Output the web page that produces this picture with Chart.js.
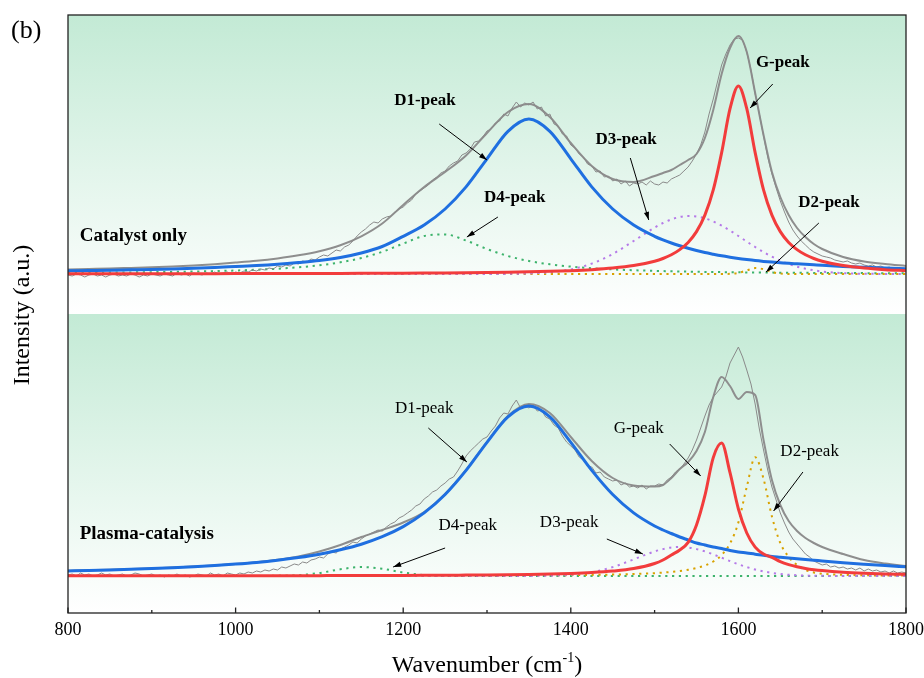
<!DOCTYPE html>
<html><head><meta charset="utf-8">
<script src="https://cdn.jsdelivr.net/npm/chart.js@4/dist/chart.umd.min.js"></script>
<style>html,body{margin:0;padding:0;background:#fff}#wrap{width:924px;height:678px}</style>
</head><body><div id="wrap"><canvas id="c" width="924" height="678"></canvas></div>
<script>
// ---------- data ----------
const WAVENUMBER = [800,825,850,875,900,925,950,975,1000,1025,1050,1075,1100,1125,1150,1175,1200,1225,1250,1275,1300,1325,1350,1375,1400,1425,1450,1475,1500,1510,1520,1530,1540,1550,1560,1570,1580,1590,1600,1610,1620,1630,1640,1650,1660,1670,1680,1690,1700,1725,1750,1775,1800];

// Catalyst only (top panel)
const TOP_FIT = [4.5,5,5.5,6.1,6.7,7.5,8.5,9.8, 11.4,13.2,15.6,18.7,22.8,28.8,37.7,50.5, 69,87,102,118.5,141,162,170,157, 131,108,95,92,98, 101,104,109,114,120,136,164,200,226,238, 222,181,139,102,77,59,46,37,30,25, 17,12.5,10,8];
const TOP_D1 = [3.2,3.5,3.8,4.2,4.6,5.1,5.7,6.5, 7.5,8.5,9.8,11.5,13.5,16.5,21,27.5, 37.7,49,65,87.1,115.2,142.7,155,142.7, 115.2,87.1,65,49,37.7, 34.1,31,28.3,25.8,23.5,21.5,19.8,18.2,16.8,15.5, 14.4,13.4,12.6,11.9,11.3,10.7,10.2,9.7,9.2,8.7, 7.6,6.7,6,5.3];
const TOP_G = [0.21,0.23,0.24,0.26,0.28,0.3,0.32,0.35, 0.38,0.41,0.45,0.5,0.55,0.61,0.67,0.76, 0.85,0.97,1.11,1.29,1.51,1.8,2.17,2.67, 3.36,4.37,5.9,8.4,12.8, 15.5,19.2,24.4,31.6,42.4,58.9,84.1,121.4,165.3,188, 165.3,121.4,84.1,58.9,42.4,31.6,24.4,19.2,15.5,12.8, 8.4,5.9,4.37,3.36];
const TOP_D3 = [0,0,0,0,0,0,0,0, 0,0,0,0,0,0,0,0, 0,0,0,0.01,0.04,0.15,0.56,1.74, 4.6,10.4,20,33,46.4, 51,54.6,57,58,57.5,55.7,52.5,48.4,43.4,38, 32.4,27,21.9,17.3,13.3,10,7.35,5.3,3.7,2.5, 0.85,0.25,0.06,0.01];
const TOP_D4 = [1.12,1.25,1.41,1.6,1.83,2.12,2.48,2.93, 3.5,4.27,5.3,6.7,8.7,11.7,16,22.2, 30.4,38,39.6,33.5,25,18,13,9.7, 7.4,5.75,4.6,3.76,3.12, 2.9,2.71,2.54,2.38,2.24,2.11,1.99,1.88,1.78,1.68, 1.6,1.52,1.45,1.38,1.32,1.26,1.2,1.15,1.1,1.06, 0.97,0.88,0.81,0.75];
const TOP_D2 = [0,0,0,0,0,0,0,0, 0,0,0,0,0,0,0,0, 0,0,0,0,0,0,0,0, 0,0,0,0,0, 0,0,0,0,0,0,0,0,0.17,1.12, 3.64,5.9,4.8,1.95,0.4,0.04,0,0,0,0, 0,0,0,0];

// Plasma-catalysis (bottom panel)
const BOT_FIT = [5.3,5.8,6.3,6.9,7.6,8.4,9.4,10.6, 12,13.8,16.2,19.5,24.5,31,39,46, 53.5,64,82,106,134,160,172,163, 139,115,98,90.5,89.5, 91,98,107,114,125,144,179,199,190,177, 184,181,136,96,71,55,45,38,33,29, 22,16,12.5,10];
const BOT_D1 = [5.03,5.5,6.04,6.67,7.4,8.25,9.26,10.46, 11.9,13.6,15.8,18.5,21.8,26.2,31.8,39.3, 49.4,63.1,81.5,105.6,133.7,159.2,170,159.2, 133.7,105.6,81.5,63.1,50, 46,42.5,39,36,33,31,29,27.5,25.5,24, 23,21.8,20.8,19.5,18.7,17.9,17.2,16.5,15.8,15, 13.3,11.8,10.4,9.2];
const BOT_G = [0.14,0.15,0.16,0.17,0.18,0.2,0.21,0.23, 0.25,0.27,0.3,0.33,0.37,0.41,0.46,0.51, 0.58,0.67,0.77,0.91,1.07,1.29,1.59,2, 2.59,3.48,4.93,7.45,12.5, 16,21,26,33.7,51.1,80.3,118.4,132.9,103.3,67, 43,28.9,22,18.7,14.4,11.4,9.2,7.6,6.35,5.4, 3.76,2.77,2.12,1.68];
const BOT_D3 = [0,0,0,0,0,0,0,0, 0,0,0,0,0,0,0,0, 0,0,0,0,0,0.01,0.07,0.34, 1.27,3.77,8.9,16.6,24.6, 26.9,28.5,29,28.5,26.9,24.6,21.6,18.3,14.9,11.7, 8.9,6.5,4.6,3.1,2.03,1.27,0.77,0.45,0.26,0.14, 0,0,0,0];
const BOT_D4 = [0,0,0,0,0,0,0,0, 0,0,0.13,0.8,3,6.7,9,7.3, 3.5,1,0.18,0.02,0,0,0,0, 0,0,0,0,0, 0,0,0,0,0,0,0,0,0,0, 0,0,0,0,0,0,0,0,0,0, 0,0,0,0];
const BOT_D2 = [0.06,0.07,0.07,0.08,0.08,0.09,0.09,0.1, 0.11,0.12,0.13,0.15,0.16,0.18,0.19,0.22, 0.24,0.27,0.31,0.36,0.42,0.49,0.58,0.71, 0.87,1.1,1.44,1.95,2.8, 3.39,4.06,4.97,6.2,7.95,10.5,14.5,21,32.5,53.6, 89.1,118.7,97.2,59.5,33,19,11,6,3.5,2.3, 1.2,0.7,0.5,0.4];

// raw measured spectra (5 cm-1 spacing)
const RAW_WAVENUMBER = [
800,805,810,815,820,825,830,835,840,845,850,855,860,865,870,875,880,885,890,895,
900,905,910,915,920,925,930,935,940,945,950,955,960,965,970,975,980,985,990,995,
1000,1005,1010,1015,1020,1025,1030,1035,1040,1045,1050,1055,1060,1065,1070,1075,1080,1085,1090,1095,
1100,1105,1110,1115,1120,1125,1130,1135,1140,1145,1150,1155,1160,1165,1170,1175,1180,1185,1190,1195,
1200,1205,1210,1215,1220,1225,1230,1235,1240,1245,1250,1255,1260,1265,1270,1275,1280,1285,1290,1295,
1300,1305,1310,1315,1320,1325,1330,1335,1340,1345,1350,1355,1360,1365,1370,1375,1380,1385,1390,1395,
1400,1405,1410,1415,1420,1425,1430,1435,1440,1445,1450,1455,1460,1465,1470,1475,1480,1485,1490,1495,
1500,1505,1510,1515,1520,1525,1530,1535,1540,1545,1550,1555,1560,1565,1570,1575,1580,1585,1590,1595,
1600,1605,1610,1615,1620,1625,1630,1635,1640,1645,1650,1655,1660,1665,1670,1675,1680,1685,1690,1695,
1700,1705,1710,1715,1720,1725,1730,1735,1740,1745,1750,1755,1760,1765,1770,1775,1780,1785,1790,1795,
1800];
const TOP_RAW = [
-1,-2,0,-1,-3,-1,0,-2,-1,-3,-1,0,-2,-1,-2,0,-1,-3,-1,-2,
0,-1,-2,0,-1,-2,1,-1,0,-2,1,0,-1,1,0,2,0,1,2,0,
2,1,3,2,4,3,5,4,6,5,8,7,9,8,11,10,13,12,15,14,
17,19,18,21,24,23,27,29,33,38,42,45,49,52,51,55,57,58,62,65,
67,71,74,80,83,86,89,94,97,101,103,108,111,113,119,121,125,132,133,137,
143,145,151,153,160,158,166,172,167,171,169,172,165,167,158,160,150,148,140,138,
129,126,120,117,110,108,102,103,97,98,93,95,90,93,88,91,90,92,89,93,
90,89,92,91,95,97,99,103,107,113,120,129,142,160,175,192,209,220,229,235,
236,234,222,204,180,160,138,117,100,86,73,62,52,44,38,33,29,25,22,20,
18,17,16,14,13,12,13,11,10,11,9,8,9,7,8,6,7,5,6,4,
5];
const BOT_RAW = [
1,2,0,3,1,2,0,1,3,1,2,0,1,2,0,1,3,2,0,1,
2,0,1,-1,1,0,2,0,1,-1,0,2,1,0,3,1,2,0,3,2,
1,3,2,4,3,5,4,6,5,7,6,9,8,10,12,11,14,13,16,17,
19,18,22,24,23,27,29,31,34,33,37,40,42,44,46,45,49,52,54,58,
60,63,66,70,72,77,80,84,86,90,93,97,99,105,112,120,125,129,133,137,
139,145,150,158,163,162,170,176,168,171,168,171,165,166,159,157,151,148,140,134,
130,126,119,116,110,109,103,104,99,97,95,96,91,93,89,90,88,91,87,90,
90,92,91,96,99,104,107,112,118,126,136,148,160,171,179,184,189,199,213,221,
229,219,206,192,172,147,126,106,89,76,63,53,44,37,32,27,22,19,15,13,
11,12,9,10,8,9,7,8,6,8,5,7,5,6,4,5,3,5,3,4,
3];

const TICK_VALUES = [800,1000,1200,1400,1600,1800];
const MINOR_TICKS = [900,1100,1300,1500,1700];

// annotations: [text, labelX, labelY, arrowFromX, arrowFromY, arrowToX, arrowToY] in data units
const TOP_NOTES = [
  ['D1-peak',1226,173, 1243,150, 1300,114],
  ['D4-peak',1333,76, 1313,57, 1276,37],
  ['D3-peak',1466,134, 1471,116, 1493,54],
  ['G-peak',1653,211, 1641,190, 1614,166],
  ['D2-peak',1708,71, 1696,51, 1633,2]
];
const BOT_NOTES = [
  ['D1-peak',1225,167, 1230,148, 1276,114],
  ['D4-peak',1277,50, 1250,28, 1188,9],
  ['D3-peak',1398,53, 1443,37, 1486,22],
  ['G-peak',1481,147, 1518,132, 1555,100],
  ['D2-peak',1685,124, 1677,104, 1642,65]
];
const PANEL_NAMES = ['Catalyst only','Plasma-catalysis'];
const PANEL_NAME_POS = [[814,38],[814,42]];

// ---------- chart ----------
const SERIF = '"Liberation Serif","Times New Roman",serif';
const pts = (xs, ys) => xs.map((x, i) => ({x, y: ys[i]}));

function series(label, ys, yAxisID, color, width, dash, order, smooth, xs) {
  return {
    label, data: pts(xs || WAVENUMBER, ys), yAxisID,
    borderColor: color, borderWidth: width, borderDash: dash || [],
    borderCapStyle: 'butt', pointRadius: 0, fill: false, order,
    tension: smooth ? 0.4 : 0, cubicInterpolationMode: smooth ? 'monotone' : 'default'
  };
}
const C = {raw:'#8a8a8a', fit:'#8e8e8e', d1:'#1f6fe0', g:'#f23c3c', d3:'#b57ae8', d4:'#3db36c', d2:'#d8a200'};
const DOT = [2.2,4.6];

const datasets = [];
[['yTop',TOP_RAW,TOP_FIT,TOP_D1,TOP_G,TOP_D3,TOP_D4,TOP_D2],
 ['yBot',BOT_RAW,BOT_FIT,BOT_D1,BOT_G,BOT_D3,BOT_D4,BOT_D2]].forEach(p => {
  const ax = p[0];
  datasets.push(series('G', p[4], ax, C.g, 3, null, 1, true));
  datasets.push(series('D1', p[3], ax, C.d1, 3, null, 2, true));
  datasets.push(series('raw', p[1], ax, C.raw, 1, null, 3, false, RAW_WAVENUMBER));
  datasets.push(series('fit', p[2], ax, C.fit, 2, null, 4, true));
  datasets.push(series('D3', p[5], ax, C.d3, 2, DOT, 5, true));
  datasets.push(series('D2', p[7], ax, C.d2, 2, DOT, 6, true));
  datasets.push(series('D4', p[6], ax, C.d4, 2, DOT, 7, true));
});

function arrow(ctx, x1, y1, x2, y2) {
  ctx.beginPath(); ctx.moveTo(x1, y1); ctx.lineTo(x2, y2); ctx.stroke();
  const a = Math.atan2(y2 - y1, x2 - x1), L = 8, W = 2.6;
  ctx.beginPath();
  ctx.moveTo(x2, y2);
  ctx.lineTo(x2 - L*Math.cos(a) + W*Math.sin(a), y2 - L*Math.sin(a) - W*Math.cos(a));
  ctx.lineTo(x2 - L*Math.cos(a) - W*Math.sin(a), y2 - L*Math.sin(a) + W*Math.cos(a));
  ctx.closePath(); ctx.fill();
}

const deco = {
  id: 'deco',
  beforeDraw(chart) {
    const {ctx, chartArea: ca, scales} = chart;
    ctx.save();
    ctx.fillStyle = '#fff'; ctx.fillRect(0, 0, chart.width, chart.height);
    for (const id of ['yTop', 'yBot']) {
      const s = scales[id];
      const g = ctx.createLinearGradient(0, s.top, 0, s.bottom);
      g.addColorStop(0, 'rgb(195,234,213)');
      g.addColorStop(1, 'rgb(255,255,255)');
      ctx.fillStyle = g;
      ctx.fillRect(ca.left, s.top, ca.right - ca.left, s.bottom - s.top);
    }
    ctx.restore();
  },
  afterDraw(chart) {
    const {ctx, chartArea: ca, scales} = chart;
    const sx = scales.x;
    ctx.save();
    // frame
    ctx.strokeStyle = '#222'; ctx.lineWidth = 1.3;
    ctx.strokeRect(ca.left, ca.top, ca.right - ca.left, ca.bottom - ca.top);
    // inward ticks
    ctx.beginPath();
    TICK_VALUES.forEach(v => { const x = sx.getPixelForValue(v); ctx.moveTo(x, ca.bottom); ctx.lineTo(x, ca.bottom - 5.5); });
    MINOR_TICKS.forEach(v => { const x = sx.getPixelForValue(v); ctx.moveTo(x, ca.bottom); ctx.lineTo(x, ca.bottom - 3); });
    ctx.stroke();
    // annotations
    ctx.fillStyle = '#000'; ctx.strokeStyle = '#000'; ctx.lineWidth = 1;
    ctx.textAlign = 'center'; ctx.textBaseline = 'middle';
    [['yTop', TOP_NOTES, 'bold '], ['yBot', BOT_NOTES, '']].forEach(([id, notes, w]) => {
      const sy = scales[id];
      ctx.font = w + '17px ' + SERIF;
      notes.forEach(n => {
        ctx.fillText(n[0], sx.getPixelForValue(n[1]), sy.getPixelForValue(n[2]));
        arrow(ctx, sx.getPixelForValue(n[3]), sy.getPixelForValue(n[4]), sx.getPixelForValue(n[5]), sy.getPixelForValue(n[6]));
      });
    });
    ctx.textAlign = 'left';
    ctx.font = 'bold 19px ' + SERIF;
    ['yTop', 'yBot'].forEach((id, i) => {
      ctx.fillText(PANEL_NAMES[i], sx.getPixelForValue(PANEL_NAME_POS[i][0]), scales[id].getPixelForValue(PANEL_NAME_POS[i][1]));
    });
    // (b)
    ctx.font = '26px ' + SERIF;
    ctx.fillText('(b)', 11, 31);
    // y title
    ctx.save();
    ctx.translate(23, (ca.top + ca.bottom) / 2 + 1);
    ctx.rotate(-Math.PI / 2);
    ctx.textAlign = 'center';
    ctx.font = '24px ' + SERIF;
    ctx.fillText('Intensity (a.u.)', 0, 0);
    ctx.restore();
    // x title with superscript
    ctx.textBaseline = 'alphabetic';
    const t1 = 'Wavenumber (cm', sup = '-1', t2 = ')';
    ctx.font = '24px ' + SERIF; const w1 = ctx.measureText(t1).width, w3 = ctx.measureText(t2).width;
    ctx.font = '14px ' + SERIF; const w2 = ctx.measureText(sup).width;
    let x0 = (ca.left + ca.right) / 2 - (w1 + w2 + w3) / 2;
    const yb = 672;
    ctx.font = '24px ' + SERIF; ctx.fillText(t1, x0, yb);
    ctx.font = '14px ' + SERIF; ctx.fillText(sup, x0 + w1, yb - 10);
    ctx.font = '24px ' + SERIF; ctx.fillText(t2, x0 + w1 + w2, yb);
    ctx.restore();
  }
};

const hiddenY = (min, max) => ({
  type: 'linear', min, max, position: 'left', stack: 'panels', stackWeight: 1,
  display: true, ticks: {display: false}, grid: {display: false, drawTicks: false}, border: {display: false},
  afterFit: s => { s.width = 0; }
});

new Chart(document.getElementById('c'), {
  type: 'line',
  data: {datasets},
  options: {
    responsive: false, animation: false, devicePixelRatio: 1,
    layout: {padding: {left: 68, right: 18, top: 15, bottom: 0}},
    plugins: {legend: {display: false}, tooltip: {enabled: false}},
    scales: {
      x: {
        type: 'linear', min: 800, max: 1800, position: 'bottom',
        afterBuildTicks: s => { s.ticks = TICK_VALUES.map(v => ({value: v})); },
        ticks: {callback: v => String(v), color: '#000', font: {family: SERIF, size: 18}, padding: 6, maxRotation: 0},
        grid: {display: false, drawTicks: false}, border: {display: false},
        afterFit: s => { s.height = 65; s.paddingLeft = 0; s.paddingRight = 0; }
      },
      yBot: hiddenY(-37, 262),
      yTop: hiddenY(-40, 259)
    }
  },
  plugins: [deco]
});
</script>
</body></html>
